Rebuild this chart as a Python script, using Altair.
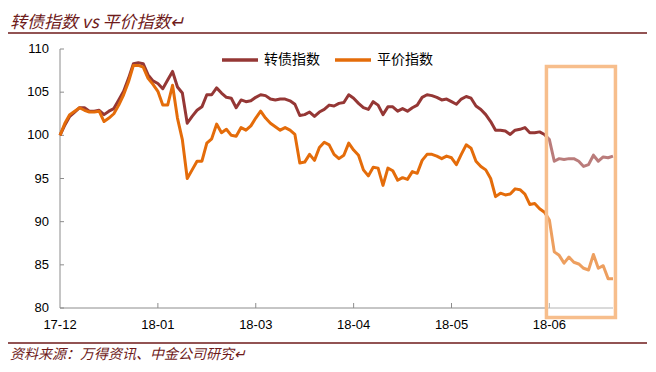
import altair as alt
import pandas as pd

# ---- data ----
series_names = ["转债指数", "平价指数"]
series_colors = ["#953735", "#E46C0A"]

cb_index = [
    100.0, 101.2, 102.2, 102.7, 103.2, 103.2, 102.8, 102.8, 102.9, 102.4,
    102.8, 103.1, 104.1, 105.1, 106.6, 108.3, 108.4, 108.3, 107.0, 106.3,
    106.0, 105.4, 106.4, 107.4, 105.6, 104.9, 101.4, 102.2, 102.9, 103.3,
    104.7, 104.7, 105.5, 104.9, 104.4, 104.3, 103.2, 104.1, 103.9, 104.0,
    104.4, 104.7, 104.6, 104.2, 104.1, 104.2, 104.2, 104.0, 103.6, 102.3,
    102.4, 102.7, 102.2, 102.7, 103.0, 103.5, 103.4, 103.7, 103.8, 104.7,
    104.3, 103.7, 103.2, 103.0, 103.9, 103.5, 102.4, 103.3, 103.3, 102.8,
    103.1, 102.8, 103.2, 103.5, 104.4, 104.7, 104.6, 104.4, 104.1, 104.2,
    103.9, 103.6, 104.2, 104.5, 104.3, 103.4, 103.0, 102.4, 101.6, 100.6,
    100.6, 100.5, 100.1, 100.6, 100.7, 100.9, 100.3, 100.3, 100.4, 100.1,
    99.5, 97.0, 97.3, 97.2, 97.3, 97.3, 97.0, 96.4, 96.6, 97.7,
    97.0, 97.5, 97.4, 97.6,
]

parity_index = [
    100.0, 101.4, 102.4, 102.8, 103.2, 102.9, 102.7, 102.7, 102.8, 101.6,
    102.0, 102.5, 103.5, 104.7, 106.2, 108.1, 108.1, 107.9, 106.6, 105.9,
    105.1, 103.5, 103.5, 105.8, 102.0, 99.5, 95.0, 96.0, 97.0, 97.0,
    99.1, 99.6, 101.3, 100.3, 100.7, 100.0, 99.9, 100.9, 100.6, 101.1,
    102.0, 102.8, 102.0, 101.4, 101.0, 100.6, 100.9, 100.6, 100.1, 96.8,
    96.9, 97.8, 97.1, 98.6, 99.2, 98.9, 97.8, 97.3, 97.7, 99.1,
    98.3, 97.7, 96.0, 95.3, 96.3, 96.2, 94.2, 96.2, 95.9, 94.8,
    95.1, 94.9, 95.8, 95.6, 97.1, 97.8, 97.8, 97.6, 97.3, 97.6,
    97.4, 96.6, 97.8, 98.9, 98.5, 97.0, 96.4, 96.0, 95.0, 92.9,
    93.3, 93.1, 93.2, 93.8, 93.7, 93.2, 92.0, 92.1, 91.5, 91.1,
    90.2, 86.5, 86.1, 85.2, 85.9, 85.3, 85.1, 84.6, 84.4, 86.2,
    84.6, 84.9, 83.4, 83.4,
]

x_tick_positions = [0, 20, 40, 60, 80, 100]
x_tick_labels = ["17-12", "18-01", "18-03", "18-04", "18-05", "18-06"]
y_ticks = [80, 85, 90, 95, 100, 105, 110]
y_tick_labels = ["80", "85", "90", "95", "100", "105", "110"]

# highlighted window (in data units: trading-day index, index value)
box_x = [99.4, 113.5]
box_y = [107.97, 78.9]

title_text = "转债指数 vs 平价指数↵"
source_text = "资料来源：万得资讯、中金公司研究↵"

# ---- build tables ----
n = len(cb_index)
df = pd.DataFrame({
    "i": list(range(n)) * 2,
    "v": cb_index + parity_index,
    "s": [series_names[0]] * n + [series_names[1]] * len(parity_index),
})

W, H = 553, 259
PAD_R = 34
axis_gray = "#8C8C8C"
maroon = "#6E1A1A"
label_font = "Liberation Sans"

xs = alt.Scale(domain=[0, n - 1], nice=False, zero=False)
ys = alt.Scale(domain=[80, 110], nice=False, zero=False)

lines = alt.Chart(df).mark_line(strokeWidth=3, strokeJoin="round").encode(
    x=alt.X("i:Q", scale=xs, axis=None),
    y=alt.Y("v:Q", scale=ys, axis=None),
    color=alt.Color("s:N", scale=alt.Scale(domain=series_names, range=series_colors),
                    legend=alt.Legend(orient="none", legendX=160, legendY=-9,
                                      direction="horizontal", title=None,
                                      symbolType="stroke", symbolSize=1296,
                                      symbolStrokeWidth=3.5,
                                      labelFont="Noto Sans CJK SC", labelFontSize=14,
                                      labelColor="black", labelOffset=4,
                                      columnPadding=8)),
)

# axis lines
y_domain = alt.Chart(pd.DataFrame({"a": [0]})).mark_rule(color=axis_gray, strokeWidth=1).encode(
    x=alt.value(0), y=alt.value(0), y2=alt.value(H))
x_domain = alt.Chart(pd.DataFrame({"a": [0]})).mark_rule(color=axis_gray, strokeWidth=1).encode(
    x=alt.value(0), x2=alt.value(W), y=alt.value(H))

# inward tick marks and tick labels
ytick_df = pd.DataFrame({"t": y_ticks, "lab": y_tick_labels})
ytick_rules = alt.Chart(ytick_df).mark_rule(color=axis_gray, strokeWidth=1).encode(
    y=alt.Y("t:Q", scale=ys, axis=None), x=alt.value(0), x2=alt.value(4))
ytick_labels = alt.Chart(ytick_df).mark_text(
    align="right", baseline="middle", font=label_font, fontSize=13, color="black").encode(
    y=alt.Y("t:Q", scale=ys, axis=None), x=alt.value(-11), text="lab:N")

xtick_df = pd.DataFrame({"t": x_tick_positions, "lab": x_tick_labels})
xtick_rules = alt.Chart(xtick_df[xtick_df.t > 0]).mark_rule(color=axis_gray, strokeWidth=1).encode(
    x=alt.X("t:Q", scale=xs, axis=None), y=alt.value(H), y2=alt.value(H - 5))
xtick_labels = alt.Chart(xtick_df).mark_text(
    align="center", baseline="top", font=label_font, fontSize=13, color="black").encode(
    x=alt.X("t:Q", scale=xs, axis=None), y=alt.value(H + 11), text="lab:N")

box_df = pd.DataFrame({"x": [box_x[0]], "x2": [box_x[1]], "y": [box_y[0]], "y2": [box_y[1]]})
box = alt.Chart(box_df).mark_rect(fill="white", fillOpacity=0.35, stroke="#F7BE8C",
                                  strokeWidth=3.5).encode(
    x=alt.X("x:Q", scale=xs, axis=None), x2="x2:Q",
    y=alt.Y("y:Q", scale=ys, axis=None), y2="y2:Q")

title_mark = alt.Chart(pd.DataFrame({"t": [title_text]})).mark_text(
    align="left", baseline="middle", font="Noto Sans CJK SC", fontSize=17,
    fontStyle="italic", color=maroon).encode(
    text="t:N", x=alt.value(-50), y=alt.value(-26))

top_rule = alt.Chart(pd.DataFrame({"a": [0]})).mark_rule(color=maroon, strokeWidth=1.5).encode(
    x=alt.value(-52), x2=alt.value(W + PAD_R), y=alt.value(-16))

bottom_rule = alt.Chart(pd.DataFrame({"a": [0]})).mark_rule(color=maroon, strokeWidth=1.5).encode(
    x=alt.value(-52), x2=alt.value(W + PAD_R), y=alt.value(H + 35))

source_mark = alt.Chart(pd.DataFrame({"t": [source_text]})).mark_text(
    align="left", baseline="middle", font="Noto Sans CJK SC", fontSize=14,
    fontStyle="italic", color=maroon).encode(
    text="t:N", x=alt.value(-50), y=alt.value(H + 47))

chart = alt.layer(
    y_domain, x_domain, ytick_rules, xtick_rules, ytick_labels, xtick_labels,
    lines, box, title_mark, top_rule, bottom_rule, source_mark
).properties(
    width=W, height=H,
    padding={"left": 52, "top": 41, "right": PAD_R, "bottom": 56},
    autosize=alt.AutoSizeParams(type="none"),
    background="white",
).configure_view(stroke=None)

chart.save("out.html", embed_options={"renderer": "svg", "actions": False})
